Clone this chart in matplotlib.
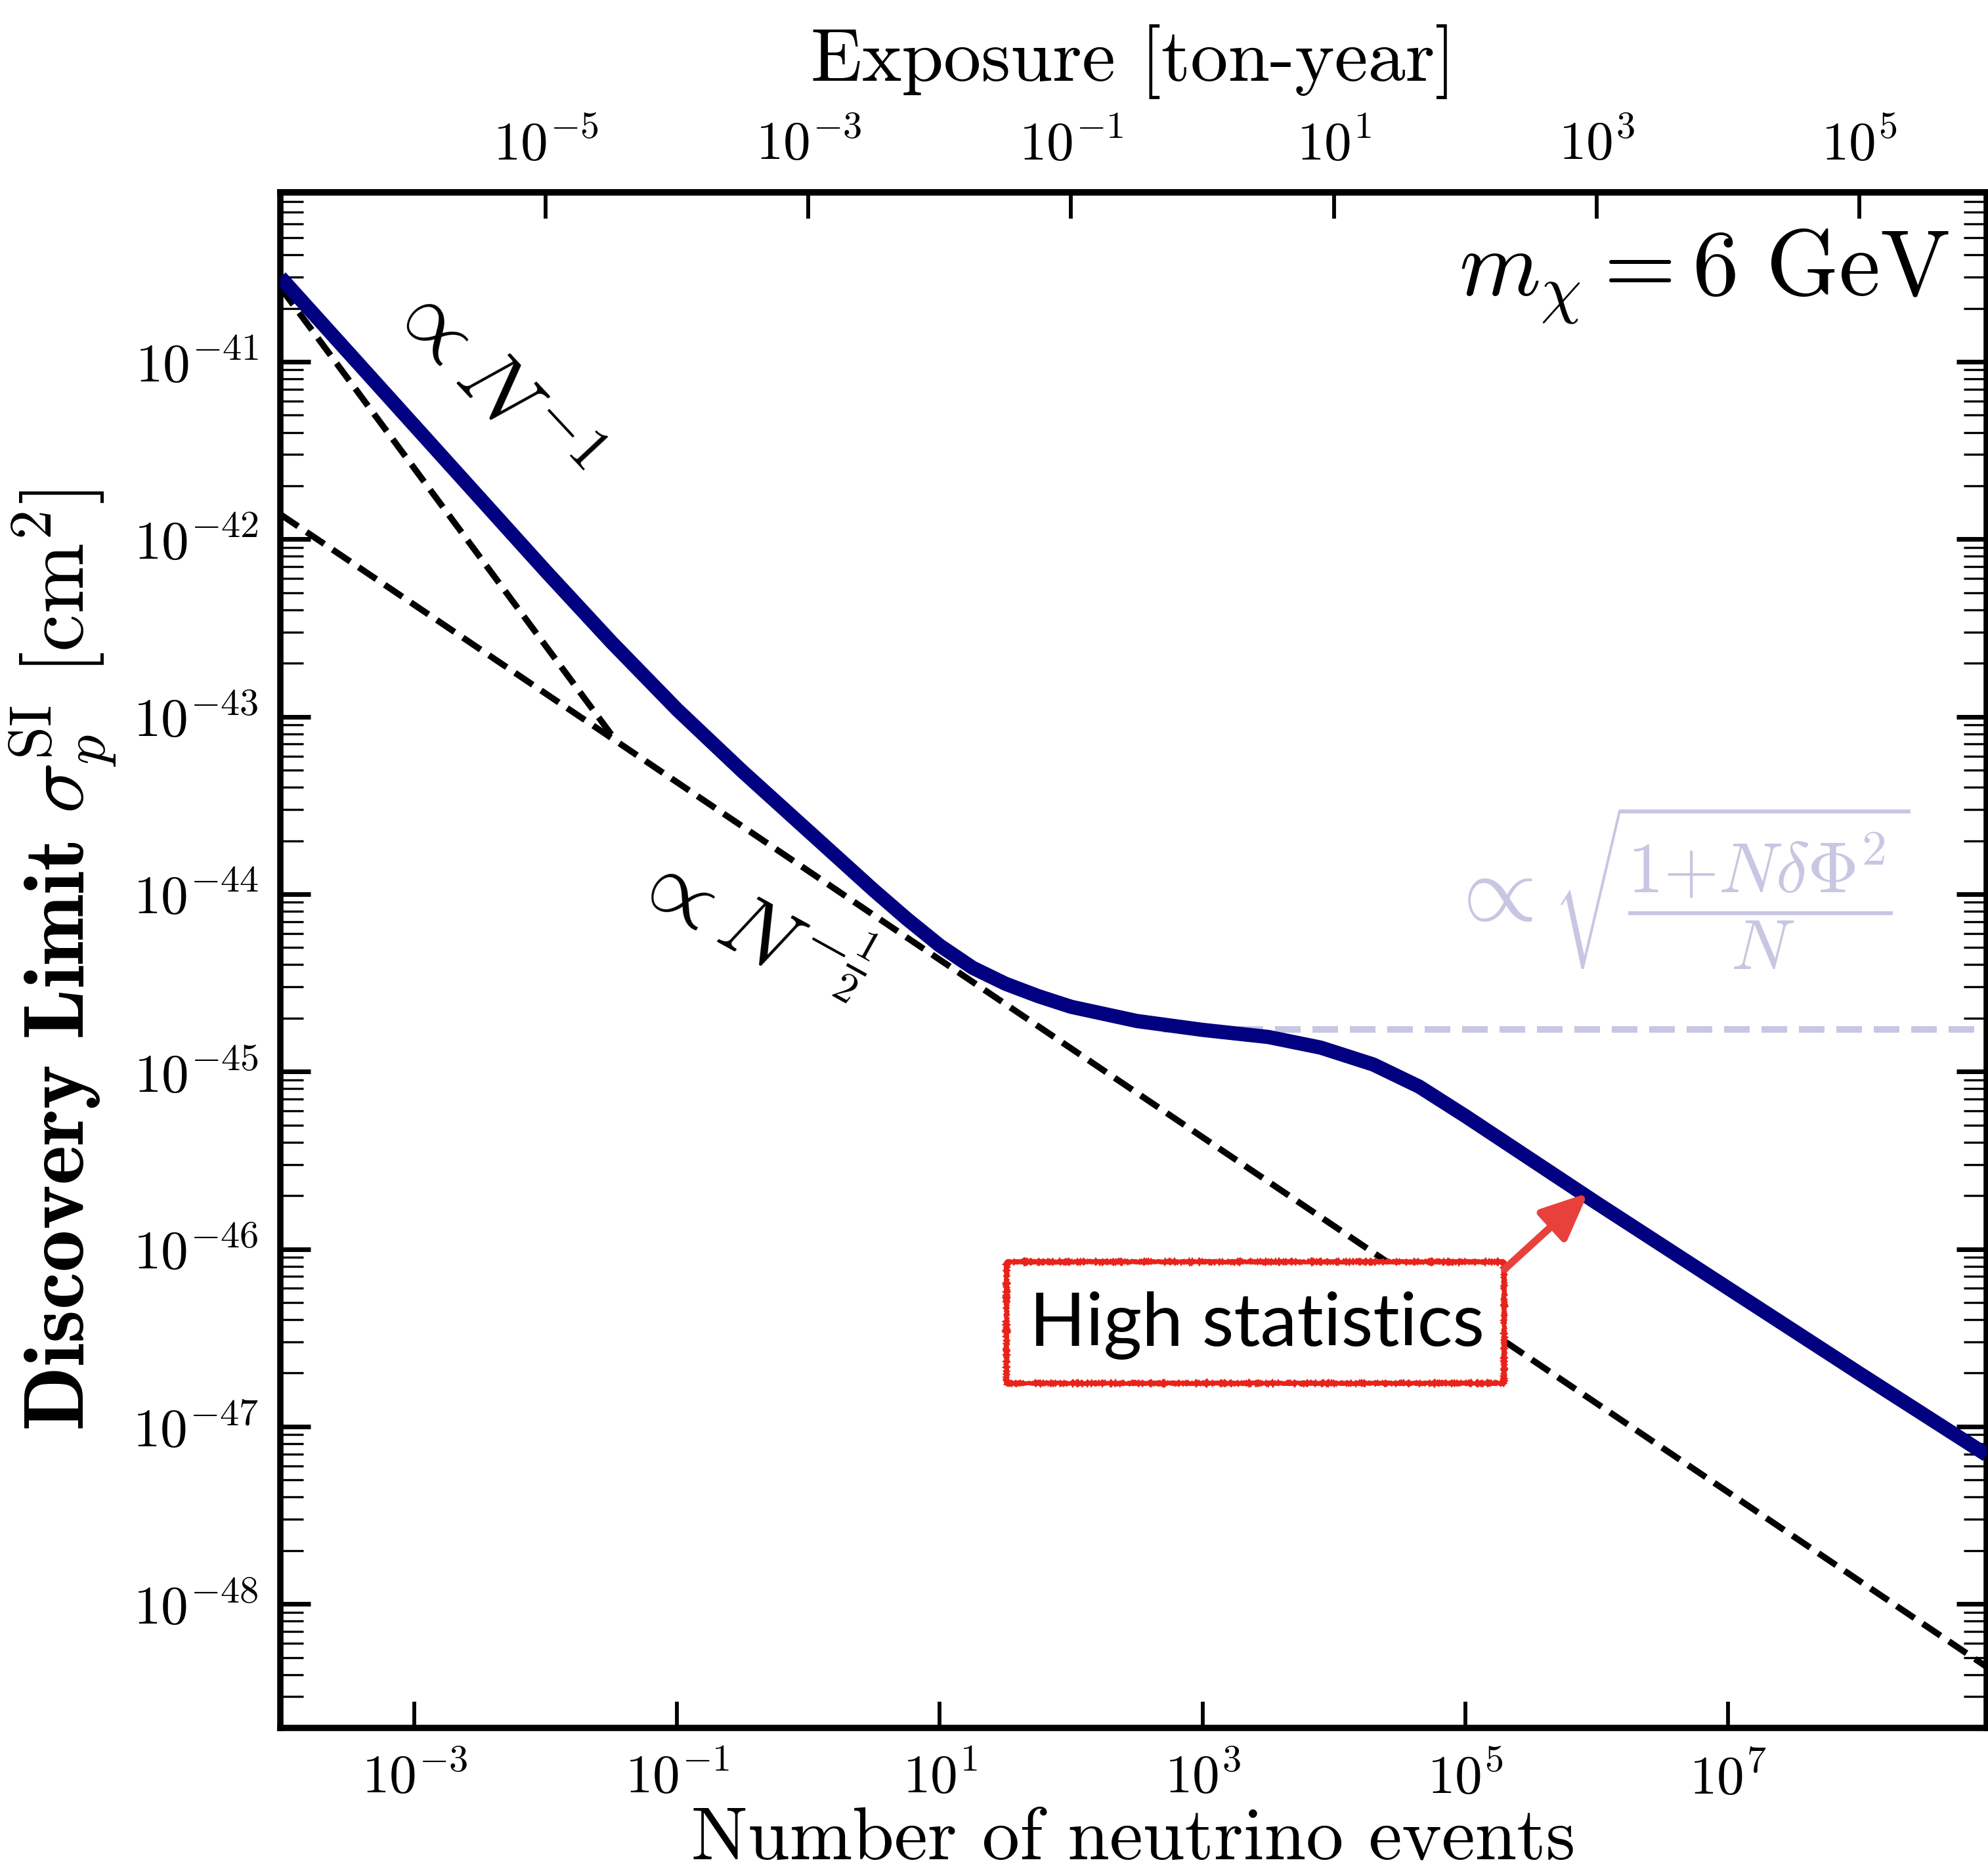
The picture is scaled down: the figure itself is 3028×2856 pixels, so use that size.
import numpy as np
import matplotlib.pyplot as plt
from matplotlib.patches import Rectangle
from matplotlib.ticker import LogLocator, NullLocator

plt.rcParams['mathtext.fontset'] = 'cm'
plt.rcParams['font.family'] = 'serif'
plt.rcParams['font.serif'] = ['cmr10']
plt.rcParams['axes.formatter.use_mathtext'] = True
plt.rcParams['axes.unicode_minus'] = False

# discovery limit for m_chi = 6 GeV, stored as log10 values
log_events = [-4.02, -4.0, -3.5, -3.0, -2.5, -2.0, -1.5, -1.0, -0.5, 0.0, 0.5,
              0.75, 1.0, 1.25, 1.5, 1.75, 2.0, 2.5, 3.0, 3.5, 3.9, 4.3, 4.65,
              5.0, 5.5, 6.0, 7.0, 8.0, 8.97]
log_limit = [-40.524, -40.54, -40.95, -41.36, -41.77, -42.18, -42.58, -42.96,
             -43.31, -43.645, -43.98, -44.14, -44.29, -44.415, -44.505, -44.575,
             -44.635, -44.715, -44.765, -44.805, -44.865, -44.96, -45.085,
             -45.25, -45.495, -45.74, -46.22, -46.70, -47.16]

# power-law guides (end points)
n1_events = [9.55e-5, 3.43e-2]
n1_sigma = [2.62e-41, 7.3e-44]
nhalf_events = [9.55e-5, 9.3e8]
nhalf_sigma = [1.38e-42, 4.43e-49]

# systematics floor
floor_events = [5e2, 9.3e8]
floor_sigma = [1.73e-45, 1.73e-45]

event_ticks = [1e-3, 1e-1, 1e1, 1e3, 1e5, 1e7]
exposure_ticks = [1e-5, 1e-3, 1e-1, 1e1, 1e3, 1e5]
events_per_ton_year = 1e3

fig = plt.figure(figsize=(3029 / 300, 2856 / 300), dpi=300)
ax = fig.add_axes([0.1410, 0.0784, 0.8580, 0.8190])

navy = '#000080'
ax.plot(floor_events, floor_sigma, color=navy, alpha=0.22, lw=2.4,
        dashes=(3.9, 1.8), zorder=1)
ax.plot(n1_events, n1_sigma, color='k', lw=2.3, dashes=(3.4, 1.6), zorder=2)
ax.plot(nhalf_events, nhalf_sigma, color='k', lw=2.3, dashes=(3.4, 1.6), zorder=2)
ax.plot(10 ** np.array(log_events), 10 ** np.array(log_limit), color=navy,
        lw=5.2, solid_capstyle='butt', solid_joinstyle='round', zorder=3)

ax.set_xscale('log')
ax.set_yscale('log')
ax.set_xlim(10 ** -4.02, 10 ** 8.97)
ax.set_ylim(2e-49, 9e-41)

ax.set_xticks(event_ticks)
ax.xaxis.set_minor_locator(NullLocator())
ax.yaxis.set_major_locator(LogLocator(base=10, numticks=30))
ax.yaxis.set_minor_locator(LogLocator(base=10, subs=np.arange(2, 10), numticks=30))

ax.tick_params(axis='x', which='major', direction='in', length=9.6, width=1.4,
               top=False, bottom=True, labelsize=20, pad=9)
ax.tick_params(axis='y', which='major', direction='in', length=11, width=1.7,
               left=True, right=True, labelsize=20, pad=8)
ax.tick_params(axis='y', which='minor', direction='in', length=8.5, width=0.8,
               left=True, right=True)
for s in ax.spines.values():
    s.set_linewidth(2.3)

ax.set_xlabel('Number of neutrino events', fontsize=27.5, labelpad=1)
ax.set_ylabel(r'$\mathbf{Discovery\ Limit}\ \sigma_p^{\mathrm{SI}}\ [\mathrm{cm}^2]$',
              fontsize=31, labelpad=5)

secax = ax.secondary_xaxis('top', functions=(lambda n: n / events_per_ton_year,
                                             lambda e: e * events_per_ton_year))
secax.set_xticks(exposure_ticks)
secax.xaxis.set_minor_locator(NullLocator())
secax.tick_params(axis='x', which='major', direction='in', length=9.6, width=1.4,
                  labelsize=20, pad=8)
secax.spines['top'].set_linewidth(2.3)
secax.set_xlabel('Exposure [ton-year]', fontsize=27.5, labelpad=14)

# labels for the scaling regimes
ax.text(10 ** -2.44, 10 ** -41.14, r'$\propto N^{-1}$', fontsize=32,
        rotation=-47, rotation_mode='anchor', ha='center', va='center')
ax.text(10 ** -0.455, 10 ** -44.196, r'$\propto N^{-\frac{1}{2}}$', fontsize=32,
        rotation=-29, rotation_mode='anchor', ha='center', va='center')
ax.text(10 ** 5.185, 10 ** -44.015, r'$\propto$', fontsize=35, color=navy,
        alpha=0.22, ha='center', va='center')
ax.text(10 ** 7.03, 10 ** -43.963, r'$\sqrt{\dfrac{1{+}N\delta\Phi^2}{N}}$',
        fontsize=26, color=navy, alpha=0.22, ha='center', va='center')
ax.text(0.978, 0.933, r'$m_\chi = 6\ \mathrm{GeV}$', fontsize=34,
        transform=ax.transAxes, ha='right', va='baseline')

# "High statistics" callout with a hand-drawn looking frame
box = Rectangle((0.4256, 0.2245), 0.2916, 0.0790, transform=ax.transAxes,
                facecolor='white', edgecolor='#e8231b', lw=1.5, zorder=4)
box.set_sketch_params(scale=1.0, length=2.0, randomness=2.0)
ax.add_patch(box)
ax.text(0.5725, 0.2488, 'High statistics', family='Lato', fontsize=27,
        transform=ax.transAxes, ha='center', va='baseline', zorder=5)
ax.annotate('', xy=(10 ** 5.935, 10 ** -45.684), xytext=(10 ** 5.30, 10 ** -46.113),
            arrowprops=dict(arrowstyle='-|>,head_length=0.36,head_width=0.16',
                            color='#e8413c', lw=2.7, mutation_scale=40,
                            shrinkA=0, shrinkB=0),
            zorder=5)

fig.savefig('out.png', dpi=300)
